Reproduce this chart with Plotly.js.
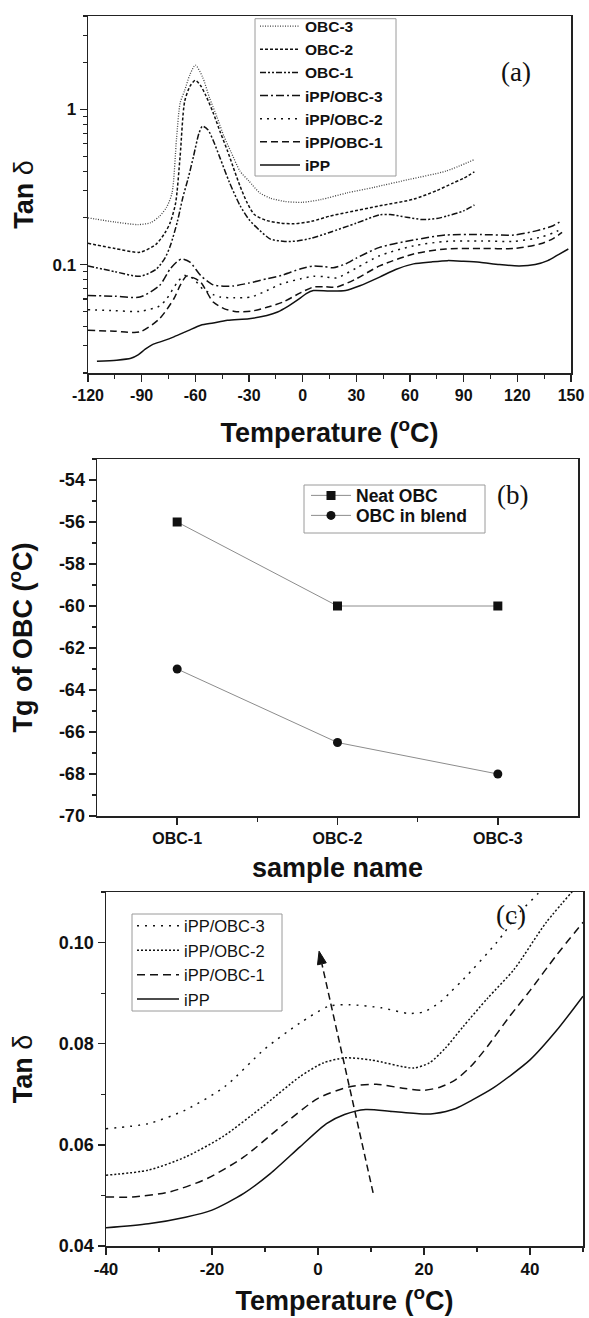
<!DOCTYPE html>
<html>
<head>
<meta charset="utf-8">
<script src="https://cdn.plot.ly/plotly-3.0.1.min.js"></script>
<style>
  html, body { margin: 0; padding: 0; background: #ffffff; }
  #chart { width: 589px; height: 1318px; }
</style>
</head>
<body>
<div id="chart"></div>
<script>
// ---------- (a) tan delta vs temperature (log scale) ----------
const obc3Temp = [-120, -105, -92, -85, -80, -76, -73, -70.5, -68.5, -66, -63, -60, -56, -52, -48, -44, -40, -35, -30, -24, -18, -10, 0, 10, 25, 40, 60, 80, 96];
const obc3Tan  = [0.200, 0.188, 0.181, 0.186, 0.205, 0.235, 0.29, 0.65, 1.1, 1.32, 1.68, 1.93, 1.62, 1.18, 0.90, 0.67, 0.53, 0.40, 0.345, 0.29, 0.268, 0.255, 0.252, 0.262, 0.29, 0.315, 0.355, 0.40, 0.475];

const obc2Temp = [-120, -105, -91, -82, -77, -74, -71, -68.5, -66, -63, -60, -57, -54, -50, -46, -42, -39, -35, -31, -27, -20, -12, -5, 5, 15, 25, 43, 62, 75, 84, 90, 96];
const obc2Tan  = [0.137, 0.127, 0.120, 0.135, 0.16, 0.187, 0.25, 0.5, 1.12, 1.41, 1.54, 1.42, 1.22, 0.95, 0.71, 0.54, 0.43, 0.32, 0.25, 0.21, 0.192, 0.185, 0.183, 0.19, 0.205, 0.217, 0.239, 0.264, 0.30, 0.335, 0.36, 0.396];

const obc1Temp = [-120, -105, -91, -82, -77, -74, -70, -67, -64, -61, -58, -56, -53, -50, -46, -41, -35, -30, -24, -18, -10, -3, 5, 15, 30, 43, 49, 58, 67, 75, 81, 90, 96];
const obc1Tan  = [0.098, 0.090, 0.084, 0.093, 0.11, 0.132, 0.19, 0.27, 0.36, 0.50, 0.70, 0.78, 0.74, 0.63, 0.48, 0.34, 0.24, 0.195, 0.166, 0.146, 0.141, 0.142, 0.148, 0.161, 0.185, 0.209, 0.21, 0.202, 0.195, 0.198, 0.206, 0.222, 0.242];

const blend3Temp = [-120, -105, -91, -80, -74, -70, -67.5, -63, -57, -50, -44, -39, -30, -20, -12, -1, 6, 12, 17, 24, 30, 43, 62, 80, 100, 118, 131, 140, 145];
const blend3Tan  = [0.0632, 0.0625, 0.0617, 0.0733, 0.094, 0.105, 0.1088, 0.1036, 0.085, 0.074, 0.0725, 0.0727, 0.076, 0.081, 0.085, 0.094, 0.098, 0.097, 0.0953, 0.101, 0.11, 0.129, 0.144, 0.155, 0.156, 0.155, 0.1655, 0.178, 0.192];

const blend2Temp = [-120, -105, -91, -80, -76, -70, -66, -61, -56, -50, -46, -38, -29, -20, -12, -1, 6, 12, 19, 30, 43, 62, 80, 100, 118, 133, 140, 145];
const blend2Tan  = [0.0512, 0.0505, 0.0499, 0.054, 0.0602, 0.077, 0.085, 0.081, 0.0698, 0.064, 0.0617, 0.061, 0.0617, 0.068, 0.075, 0.081, 0.084, 0.0835, 0.082, 0.095, 0.114, 0.132, 0.141, 0.142, 0.141, 0.15, 0.16, 0.17];

const blend1Temp = [-120, -105, -91, -80, -72, -68.5, -65, -61, -57, -50, -44, -38, -29, -20, -11, -1, 6, 12, 19, 30, 43, 62, 80, 100, 118, 133, 140, 145];
const blend1Tan  = [0.0377, 0.0372, 0.0368, 0.0448, 0.0602, 0.0733, 0.0842, 0.082, 0.077, 0.0573, 0.052, 0.0499, 0.05, 0.053, 0.0573, 0.066, 0.0716, 0.072, 0.0716, 0.081, 0.098, 0.117, 0.126, 0.127, 0.127, 0.136, 0.147, 0.161];

const ippTemp = [-115, -104, -96, -92, -88, -84, -78, -72, -64, -57, -50, -42, -30, -20, -14, -8, -2, 2, 6, 15, 24, 32, 43, 52, 62, 72, 81, 90, 99, 110, 121, 130, 137, 143, 148.5];
const ippTan  = [0.0238, 0.0242, 0.0249, 0.0262, 0.0285, 0.0305, 0.0322, 0.0342, 0.0375, 0.0406, 0.042, 0.0437, 0.0448, 0.047, 0.0495, 0.054, 0.06, 0.065, 0.068, 0.0675, 0.068, 0.073, 0.083, 0.093, 0.101, 0.104, 0.106, 0.105, 0.1035, 0.1, 0.098, 0.1, 0.106, 0.116, 0.126];

const tempTicksA = [-120, -90, -60, -30, 0, 30, 60, 90, 120, 150];
const tanTicksA  = [0.1, 1];
const tanMinorA  = [0.02, 0.03, 0.04, 0.05, 0.06, 0.07, 0.08, 0.09, 0.2, 0.3, 0.4, 0.5, 0.6, 0.7, 0.8, 0.9, 2, 3, 4];

// ---------- (b) Tg of the OBC phase ----------
const sampleNames = ['OBC-1', 'OBC-2', 'OBC-3'];
const tgNeatObc  = [-56, -60, -60];
const tgObcBlend = [-63, -66.5, -68];
const tgTicks    = [-70, -68, -66, -64, -62, -60, -58, -56, -54];

// ---------- (c) close-up of the blends, -40 to 50 °C ----------
const cIppTemp = [-40, -32, -25, -20, -14, -9, -3.4, 1.6, 5, 9, 14, 20, 22, 26, 29, 33, 40, 45, 50];
const cIppTan  = [0.0436, 0.0444, 0.0457, 0.0471, 0.0504, 0.0543, 0.0596, 0.0642, 0.066, 0.067, 0.0666, 0.0661, 0.0662, 0.0672, 0.0688, 0.0712, 0.0768, 0.0826, 0.0894];

const cBlend1Temp = [-40, -35, -28, -21, -14, -7, 0, 6, 11, 16, 20, 23, 26, 29, 32, 36, 40, 45, 50];
const cBlend1Tan  = [0.0497, 0.0497, 0.0507, 0.0533, 0.0576, 0.0636, 0.0692, 0.0715, 0.072, 0.0712, 0.0708, 0.0714, 0.0729, 0.0757, 0.0795, 0.0852, 0.0905, 0.0975, 0.104];

const cBlend2Temp = [-40, -32, -25, -18, -10.5, -3.4, 1, 5, 10, 18, 21, 24, 27.4, 32, 37, 43, 50];
const cBlend2Tan  = [0.054, 0.055, 0.0576, 0.0616, 0.0675, 0.0735, 0.0762, 0.0772, 0.0768, 0.0752, 0.0762, 0.0791, 0.0834, 0.089, 0.0947, 0.1039, 0.1125];

const cBlend3Temp = [-40, -32, -25, -17.6, -10, -3.4, 2, 6, 12, 17, 20, 23, 25, 27.4, 33.7, 38, 41.6, 44];
const cBlend3Tan  = [0.0632, 0.0642, 0.0669, 0.0715, 0.079, 0.0841, 0.0874, 0.0877, 0.0871, 0.086, 0.0863, 0.0882, 0.0902, 0.0927, 0.1, 0.1059, 0.1098, 0.113];

const tempTicksC = [-40, -20, 0, 20, 40];
const tanTicksC  = [0.04, 0.06, 0.08, 0.10];

// guide arrow in (c): tail and tip in data units
const arrowTail = [10.4, 0.0505];
const arrowTip  = [0.2, 0.0983];

// ---------- styling ----------
const W = 589, H = 1318;
const SANS = 'Liberation Sans, Arial, Helvetica, sans-serif';
const SERIF = 'Liberation Serif, Times New Roman, serif';
const INK = '#111111';
const FRAME = '#9a9a9a';
const px = v => v / W;          // horizontal pixel -> paper fraction
const py = v => 1 - v / H;      // vertical pixel -> paper fraction
const bold = s => '<b>' + s + '</b>';

const tickFont  = size => ({ family: SANS, size: size, color: INK, weight: 'bold' });
const titleFont = { family: SANS, size: 27, color: INK, weight: 'bold' };
const tanTitleFont = { family: SANS, size: 27, color: INK, weight: 'normal' };
const minorOut = extra => Object.assign({ ticks: 'outside', ticklen: 4, tickwidth: 1.2, tickcolor: '#222' }, extra);
const minorIn  = extra => Object.assign({ ticks: 'inside', ticklen: 4, tickwidth: 1.2, tickcolor: '#222' }, extra);

function baseAxis(extra) {
  return Object.assign({
    showline: true, mirror: true, linecolor: '#222', linewidth: 1.5,
    ticks: 'outside', ticklen: 7, tickwidth: 1.5, tickcolor: '#222',
    showgrid: false, zeroline: false, automargin: false, fixedrange: true
  }, extra);
}
function overlayAxis(extra) {
  return Object.assign({
    showline: false, showticklabels: false, ticks: 'inside', ticklen: 7,
    tickwidth: 1.5, tickcolor: '#222', showgrid: false, zeroline: false,
    automargin: false, fixedrange: true
  }, extra);
}
function frame(x0, x1, top, bottom) {
  return { type: 'rect', xref: 'paper', yref: 'paper', x0: px(x0), x1: px(x1), y0: py(bottom), y1: py(top),
           line: { color: FRAME, width: 1 }, fillcolor: 'rgba(0,0,0,0)' };
}
const plainLegend = (x, y, anchor, font, itemwidth) => ({
  x: px(x), y: py(y), xanchor: 'left', yanchor: anchor, borderwidth: 0, bgcolor: 'rgba(0,0,0,0)',
  font: font, itemwidth: itemwidth, tracegroupgap: 0
});

const logRange = [Math.log10(0.02), Math.log10(4)];

function curve(x, y, name, dash, xa, ya, legend, color, width) {
  return {
    type: 'scatter', mode: 'lines', x: x, y: y, name: name,
    xaxis: xa, yaxis: ya, legend: legend,
    line: { color: color || INK, width: width || 1.5, dash: dash, shape: 'spline', smoothing: 0.7 }
  };
}

const sampleX = sampleNames.map((_, i) => i + 1);

const traces = [
  // (a)
  curve(obc3Temp, obc3Tan, 'OBC-3', '1px,1.5px', 'x', 'y', 'legend', '#444', 1.3),
  curve(obc2Temp, obc2Tan, 'OBC-2', '3px,2px', 'x', 'y', 'legend'),
  curve(obc1Temp, obc1Tan, 'OBC-1', '6px,2px,2px,2px,2px,2px', 'x', 'y', 'legend'),
  curve(blend3Temp, blend3Tan, 'iPP/OBC-3', '8px,3px,2px,3px', 'x', 'y', 'legend'),
  curve(blend2Temp, blend2Tan, 'iPP/OBC-2', '2px,5px', 'x', 'y', 'legend'),
  curve(blend1Temp, blend1Tan, 'iPP/OBC-1', '7px,4px', 'x', 'y', 'legend'),
  curve(ippTemp, ippTan, 'iPP', 'solid', 'x', 'y', 'legend'),
  // (b)
  {
    type: 'scatter', mode: 'lines+markers', name: 'Neat OBC',
    x: sampleX, y: tgNeatObc, xaxis: 'x2', yaxis: 'y2', legend: 'legend2',
    line: { color: '#8c8c8c', width: 1 }, marker: { symbol: 'square', size: 9, color: INK }
  },
  {
    type: 'scatter', mode: 'lines+markers', name: 'OBC in blend',
    x: sampleX, y: tgObcBlend, xaxis: 'x2', yaxis: 'y2', legend: 'legend3',
    line: { color: '#8c8c8c', width: 1 }, marker: { symbol: 'circle', size: 9, color: INK }
  },
  // (c)
  curve(cBlend3Temp, cBlend3Tan, 'iPP/OBC-3', '2px,6px', 'x3', 'y3', 'legend4'),
  curve(cBlend2Temp, cBlend2Tan, 'iPP/OBC-2', '2px,2px', 'x3', 'y3', 'legend4'),
  curve(cBlend1Temp, cBlend1Tan, 'iPP/OBC-1', '8px,5px', 'x3', 'y3', 'legend4'),
  curve(cIppTemp, cIppTan, 'iPP', 'solid', 'x3', 'y3', 'legend4')
];

// guide arrow geometry: shaft plus filled head, converted between pixels and data units of (c)
const pxPerT = (583 - 106) / 90, pxPerV = (1246 - 892) / 0.07;
const dxp = (arrowTail[0] - arrowTip[0]) * pxPerT, dyp = (arrowTail[1] - arrowTip[1]) * pxPerV;
const len = Math.hypot(dxp, dyp), ux = dxp / len, uy = dyp / len;
const headLen = 13, headHalf = 4.5;
const toData = (ox, oy) => [arrowTip[0] + ox / pxPerT, arrowTip[1] + oy / pxPerV];
const headBase = toData(ux * headLen, uy * headLen);
const cornerA = toData(ux * headLen - uy * headHalf, uy * headLen + ux * headHalf);
const cornerB = toData(ux * headLen + uy * headHalf, uy * headLen - ux * headHalf);
const headPath = 'M' + arrowTip[0] + ',' + arrowTip[1] + ' L' + cornerA[0] + ',' + cornerA[1] +
                 ' L' + cornerB[0] + ',' + cornerB[1] + ' Z';

const layout = {
  width: W, height: H,
  margin: { l: 0, r: 0, t: 0, b: 0 },
  paper_bgcolor: '#ffffff', plot_bgcolor: '#ffffff',
  font: { family: SANS, color: INK },
  showlegend: true,

  // ---- panel (a)
  xaxis: baseAxis({
    domain: [px(88), px(571)], anchor: 'y', range: [-120, 150],
    tickmode: 'array', tickvals: tempTicksA, ticktext: tempTicksA.map(v => bold(String(v))), tickfont: tickFont(16),
    minor: minorOut({ tick0: -120, dtick: 15 }),
    title: { text: 'Temperature (<sup>o</sup>C)', font: titleFont, standoff: 20 }
  }),
  yaxis: baseAxis({
    domain: [py(373), py(16)], anchor: 'x', type: 'log', range: logRange,
    tickmode: 'array', tickvals: tanTicksA, ticktext: tanTicksA.map(v => bold(String(v))), tickfont: tickFont(17),
    minor: minorOut({ tickmode: 'array', tickvals: tanMinorA }),
    title: { text: '<b>Tan</b> δ', font: tanTitleFont, standoff: 11 }
  }),
  xaxis4: overlayAxis({
    overlaying: 'x', side: 'top', anchor: 'y', range: [-120, 150], tickmode: 'array', tickvals: tempTicksA,
    minor: minorIn({ tick0: -120, dtick: 15 })
  }),
  yaxis4: overlayAxis({
    overlaying: 'y', side: 'right', anchor: 'x', type: 'log', range: logRange, tickmode: 'array', tickvals: tanTicksA,
    minor: minorIn({ tickmode: 'array', tickvals: tanMinorA })
  }),

  // ---- panel (b)
  xaxis2: baseAxis({
    domain: [px(97), px(578)], anchor: 'y2', range: [0.5, 3.5],
    tickmode: 'array', tickvals: sampleX, ticktext: sampleNames.map(bold), tickfont: tickFont(16),
    minor: minorOut({ tickmode: 'array', tickvals: [1.5, 2.5] }),
    title: { text: 'sample name', font: titleFont, standoff: 12 }
  }),
  yaxis2: baseAxis({
    domain: [py(816), py(459)], anchor: 'x2', range: [-70, -53],
    tickmode: 'array', tickvals: tgTicks, ticktext: tgTicks.map(v => bold(String(v))), tickfont: tickFont(18),
    minor: minorOut({ tick0: -70, dtick: 1 }),
    title: { text: 'Tg of OBC (<sup>o</sup>C)', font: titleFont, standoff: 18 }
  }),
  xaxis5: overlayAxis({
    overlaying: 'x2', side: 'top', anchor: 'y2', range: [0.5, 3.5], tickmode: 'array', tickvals: sampleX,
    minor: minorIn({ tickmode: 'array', tickvals: [1.5, 2.5] })
  }),
  yaxis5: overlayAxis({
    overlaying: 'y2', side: 'right', anchor: 'x2', range: [-70, -53], tickmode: 'array', tickvals: tgTicks,
    minor: minorIn({ tick0: -70, dtick: 1 })
  }),

  // ---- panel (c)
  xaxis3: baseAxis({
    domain: [px(106), px(583)], anchor: 'y3', range: [-40, 50],
    tickmode: 'array', tickvals: tempTicksC, ticktext: tempTicksC.map(v => bold(String(v))), tickfont: tickFont(17),
    minor: minorOut({ tick0: -40, dtick: 10 }),
    title: { text: 'Temperature (<sup>o</sup>C)', font: titleFont, standoff: 13 }
  }),
  yaxis3: baseAxis({
    domain: [py(1246), py(892)], anchor: 'x3', range: [0.04, 0.11],
    tickmode: 'array', tickvals: tanTicksC, ticktext: tanTicksC.map(v => bold(v.toFixed(2))), tickfont: tickFont(18),
    minor: minorOut({ tick0: 0.04, dtick: 0.01 }),
    title: { text: '<b>Tan</b> δ', font: tanTitleFont, standoff: 18 }
  }),
  xaxis6: overlayAxis({
    overlaying: 'x3', side: 'top', anchor: 'y3', range: [-40, 50], tickmode: 'array', tickvals: tempTicksC,
    minor: minorIn({ tick0: -40, dtick: 10 })
  }),
  yaxis6: overlayAxis({
    overlaying: 'y3', side: 'right', anchor: 'x3', range: [0.04, 0.11], tickmode: 'array', tickvals: tanTicksC,
    minor: minorIn({ tick0: 0.04, dtick: 0.01 })
  }),

  // ---- legends (frames are drawn as shapes below)
  legend:  plainLegend(255, 9.5, 'top', { family: SANS, size: 15.5, color: INK, weight: 'bold' }, 40),
  legend2: plainLegend(306, 495.5, 'middle', { family: SANS, size: 17.5, color: INK, weight: 'bold' }, 40),
  legend3: plainLegend(306, 515.5, 'middle', { family: SANS, size: 17.5, color: INK, weight: 'bold' }, 40),
  legend4: plainLegend(132, 908.5, 'top', { family: SANS, size: 16.5, color: INK }, 42),

  shapes: [
    frame(255, 396, 18.7, 176),
    frame(304, 485, 485, 533),
    frame(132, 282, 914, 1011),
    // dashed guide arrow in (c)
    { type: 'line', xref: 'x3', yref: 'y3', x0: arrowTail[0], y0: arrowTail[1], x1: headBase[0], y1: headBase[1],
      line: { color: INK, width: 1.5, dash: '7px,4px' } },
    { type: 'path', xref: 'x3', yref: 'y3', path: headPath, fillcolor: INK, line: { color: INK, width: 1 } }
  ],

  annotations: [
    { text: '(a)', xref: 'paper', yref: 'paper', x: px(533), y: py(55), showarrow: false,
      font: { family: SERIF, size: 27, color: INK } },
    { text: '(b)', xref: 'paper', yref: 'paper', x: px(530), y: py(495), showarrow: false,
      font: { family: SERIF, size: 27, color: INK } },
    { text: '(c)', xref: 'paper', yref: 'paper', x: px(528), y: py(932), showarrow: false,
      font: { family: SERIF, size: 27, color: INK } }
  ]
};

Plotly.newPlot('chart', traces, layout, { staticPlot: true, displayModeBar: false });
</script>
</body>
</html>
